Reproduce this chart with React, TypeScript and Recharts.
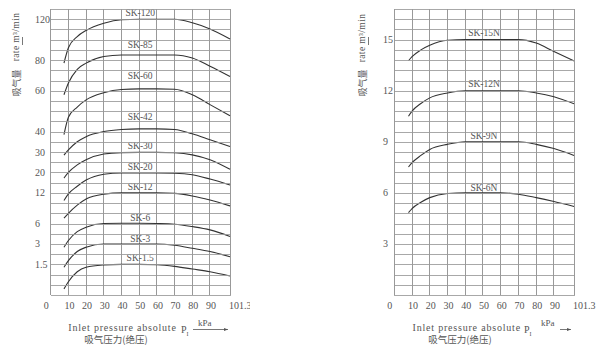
import React from "react";
import { LineChart, Line, XAxis, YAxis, ReferenceLine } from "recharts";

const FONT = '"Liberation Serif", "DejaVu Serif", serif';
const CJK = '"Noto Sans CJK SC", sans-serif';
const TEXT = "#555";
const GRID = "#999";
const CURVE = "#333";

// inlet pressure, kPa
const PRESSURE_LEFT = [7.5, 10, 15, 20, 30, 40, 50, 60, 70, 80, 90, 101.3];
const PRESSURE_RIGHT = [8, 10, 15, 20, 30, 40, 50, 60, 70, 80, 90, 101.3];
const X_TICKS = [0, 10, 20, 30, 40, 50, 60, 70, 80, 90, 101.3];
const X_MAX = 101.3;

// suction rate, m3/min (left panel)
const SK_120 = [78, 92, 103, 109, 116, 119.5, 120, 120, 120, 116.5, 110.5, 100.7];
const SK_85 = [58, 65, 74, 78, 83.5, 85, 85, 85, 85, 82, 76, 69.3];
const SK_60 = [38.5, 47, 52, 55.5, 59, 60.8, 61.2, 61.2, 61, 58, 53.2, 47.7];
const SK_42 = [28.5, 31, 35, 37.5, 40, 41, 41.3, 41.3, 41, 38.9, 36, 32.7];
const SK_30 = [17.8, 20, 23.7, 26.2, 29, 29.7, 29.8, 29.8, 29.6, 28.6, 26.2, 21.5];
const SK_20 = [10.5, 11.8, 14.6, 17, 19.3, 19.8, 19.8, 19.8, 19.7, 19.1, 17.4, 15.1];
const SK_12 = [7.04, 8.0, 9.6, 10.8, 11.75, 12, 12, 12, 11.9, 11.4, 10.6, 9.45];
const SK_6 = [2.76, 3.5, 4.8, 5.45, 6, 6.05, 6.05, 6, 5.9, 5.55, 5.06, 4.1];
const SK_3 = [1.36, 1.77, 2.44, 2.76, 3, 3, 3, 3, 2.9, 2.68, 2.44, 2.06];
const SK_1_5 = [0.3, 0.65, 1.14, 1.36, 1.47, 1.5, 1.5, 1.48, 1.4, 1.27, 1.14, 0.93];

// right panel
const SK_15N = [13.76, 14.0, 14.4, 14.67, 14.96, 15, 15, 15, 15, 14.8, 14.3, 13.75];
const SK_12N = [10.5, 10.8, 11.25, 11.58, 11.87, 12, 12, 12, 12, 11.87, 11.64, 11.23];
const SK_9N = [7.52, 7.77, 8.2, 8.55, 8.85, 9, 9, 9, 9, 8.85, 8.6, 8.2];
const SK_6N = [4.84, 5.08, 5.45, 5.72, 5.96, 6, 6, 6, 5.92, 5.72, 5.49, 5.2];

// left y axis is not linear: every tick label sits on its own grid row
const LEFT_TICK_VALUES = [0, 1.5, 3, 6, 12, 20, 30, 40, 60, 80, 120];
const LEFT_TICK_ROWS = [0, 3, 5, 7, 10, 12, 14, 16, 20, 23, 27];
const LEFT_ROWS = 28;
const RIGHT_TICKS = [3, 6, 9, 12, 15];
const RIGHT_MAX = 16.8;
const RIGHT_ROWS = 28; // one row = 0.6 m3/min

const LABEL_AT = 6; // index of 50 kPa

// chart geometry shared by the charts and the grid overlay
const CHART_H = 358;
const TOP = 9;
const BOTTOM = 33;
const X_AXIS_H = 30;
const PLOT_H = CHART_H - TOP - BOTTOM - X_AXIS_H;
const LEFT_PANEL = { left: 0, width: 250, yAxisW: 50.7, right: 20 };
const RIGHT_PANEL = { left: 330, width: 270, yAxisW: 64.3, right: 26 };

const LEFT_SERIES = [
  { key: "k120", name: "SK-120", values: SK_120, dy: -6 },
  { key: "k85", name: "SK-85", values: SK_85, dy: -10 },
  { key: "k60", name: "SK-60", values: SK_60, dy: -13 },
  { key: "k42", name: "SK-42", values: SK_42, dy: -12 },
  { key: "k30", name: "SK-30", values: SK_30, dy: -6 },
  { key: "k20", name: "SK-20", values: SK_20, dy: -6 },
  { key: "k12", name: "SK-12", values: SK_12, dy: -6 },
  { key: "k6", name: "SK-6", values: SK_6, dy: -5 },
  { key: "k3", name: "SK-3", values: SK_3, dy: -5 },
  { key: "k15", name: "SK-1.5", values: SK_1_5, dy: -6 },
];

const RIGHT_SERIES = [
  { key: "n15", name: "SK-15N", values: SK_15N, dy: -7 },
  { key: "n12", name: "SK-12N", values: SK_12N, dy: -7 },
  { key: "n9", name: "SK-9N", values: SK_9N, dy: -6 },
  { key: "n6", name: "SK-6N", values: SK_6N, dy: -5 },
];

function toRow(v: number) {
  const vs = LEFT_TICK_VALUES;
  const rs = LEFT_TICK_ROWS;
  let i = 1;
  while (i < vs.length - 1 && v > vs[i]) i++;
  const t = (v - vs[i - 1]) / (vs[i] - vs[i - 1]);
  return rs[i - 1] + t * (rs[i] - rs[i - 1]);
}

const leftData = PRESSURE_LEFT.map((p, i) => {
  const row: Record<string, number> = { p };
  LEFT_SERIES.forEach((s) => (row[s.key] = toRow(s.values[i])));
  return row;
});

const rightData = PRESSURE_RIGHT.map((p, i) => {
  const row: Record<string, number> = { p };
  RIGHT_SERIES.forEach((s) => (row[s.key] = s.values[i]));
  return row;
});

const txt = (size: number, family = FONT) => ({ fontSize: size, fontFamily: family, fill: TEXT });

const curveLabel = (text: string, dy: number) => (props: any) =>
  props.index === LABEL_AT ? (
    <text x={props.x + 1} y={props.y + dy} textAnchor="middle" dominantBaseline="central" style={txt(9.5)}>
      {text}
    </text>
  ) : null;

function XTick(props: any) {
  const { x, payload } = props;
  const v = payload.value;
  if (v === 0) {
    return <text x={x - 4.5} y={309} textAnchor="middle" style={txt(10)}>0</text>;
  }
  if (v === 101.3) {
    return <text x={x - 1} y={309} textAnchor="start" style={txt(10)}>101.3</text>;
  }
  return <text x={x + 1} y={309} textAnchor="middle" style={txt(10)}>{v}</text>;
}

function LeftYTick(props: any) {
  const { y, payload } = props;
  const idx = LEFT_TICK_ROWS.indexOf(payload.value);
  return <text x={35} y={y + 3.5} textAnchor="start" style={txt(10)}>{LEFT_TICK_VALUES[idx]}</text>;
}

function RightYTick(props: any) {
  const { y, payload } = props;
  return <text x={53} y={y + 3.5} textAnchor="start" style={txt(10)}>{payload.value}</text>;
}

// horizontal grid rows as thin rects, so they stay visible as solid 1px bands
function gridRows(p: typeof LEFT_PANEL, rows: number) {
  const x1 = Math.round(p.left + p.yAxisW);
  const x2 = Math.round(p.left + p.width - p.right);
  return Array.from({ length: rows + 1 }, (_, i) => {
    const y = Math.round(TOP + (PLOT_H * i) / rows);
    return <rect key={`${p.left}-${i}`} x={x1} y={y} width={x2 - x1 + 1} height={1} fill={GRID} />;
  });
}

function Overlay() {
  const axisTitle = (x: number, rateY: number, cnY: number) => (
    <g>
      <text transform={`translate(${x},${rateY}) rotate(-90)`} textAnchor="middle" dominantBaseline="central" style={{ ...txt(9.5), letterSpacing: 0.4 }}>
        rate  m³/min
      </text>
      <text transform={`translate(${x},${cnY}) rotate(-90)`} textAnchor="middle" dominantBaseline="central" style={txt(9, CJK)}>
        吸气量
      </text>
      <line x1={x + 6.5} y1={45} x2={x + 6.5} y2={37} stroke={TEXT} strokeWidth={0.8} />
    </g>
  );
  const xTitle = (cx: number, px: number, arrow: [number, number], cnX: number) => (
    <g>
      <text x={cx} y={331} textAnchor="middle" style={{ ...txt(10), letterSpacing: 0.8 }}>Inlet pressure absolute</text>
      <text x={px} y={333} style={txt(10)}>P<tspan dy={3} style={{ fontSize: 6 }}>I</tspan></text>
      <text x={px + 17} y={326} style={txt(9)}>kPa</text>
      <line x1={arrow[0]} y1={329.5} x2={arrow[1]} y2={329.5} stroke={TEXT} strokeWidth={0.8} />
      <path d={`M${arrow[1]},329.5 l-4,-1.5 l0,3 z`} fill={TEXT} />
      <text x={cnX} y={343} textAnchor="middle" style={txt(9.5, CJK)}>吸气压力(绝压)</text>
    </g>
  );
  return (
    <svg width={600} height={358} style={{ position: "absolute", left: 0, top: 0, pointerEvents: "none" }}>
      <g opacity={0.85}>
        {gridRows(LEFT_PANEL, LEFT_ROWS)}
        {gridRows(RIGHT_PANEL, RIGHT_ROWS)}
      </g>
      {axisTitle(16, 37, 83)}
      {axisTitle(362, 38, 83)}
      {xTitle(122.5, 181, [193, 228], 116)}
      {xTitle(466.7, 524, [560, 571], 460)}
    </svg>
  );
}

const gridCols = () =>
  X_TICKS.map((p) => <ReferenceLine key={`v${p}`} x={p} stroke={GRID} strokeWidth={1} shapeRendering="crispEdges" />);

export default function App() {
  return (
    <div style={{ position: "absolute", left: 0, top: 0, width: 600, height: 358, background: "#fff", fontFamily: FONT }}>
      <div style={{ position: "absolute", left: LEFT_PANEL.left, top: 0 }}>
        <LineChart width={LEFT_PANEL.width} height={CHART_H} data={leftData} margin={{ top: TOP, right: LEFT_PANEL.right, bottom: BOTTOM, left: 0 }}>
          <XAxis dataKey="p" type="number" domain={[0, X_MAX]} ticks={X_TICKS} interval={0} height={X_AXIS_H} axisLine={false} tickLine={false} tick={<XTick />} />
          <YAxis type="number" domain={[0, LEFT_ROWS]} ticks={LEFT_TICK_ROWS.slice(1)} interval={0} width={LEFT_PANEL.yAxisW} axisLine={false} tickLine={false} tick={<LeftYTick />} />
          {gridCols()}
          {LEFT_SERIES.map((s) => (
            <Line key={s.key} dataKey={s.key} type="monotone" stroke={CURVE} strokeWidth={1.1} dot={false} isAnimationActive={false} label={curveLabel(s.name, s.dy)} />
          ))}
        </LineChart>
      </div>
      <div style={{ position: "absolute", left: RIGHT_PANEL.left, top: 0 }}>
        <LineChart width={RIGHT_PANEL.width} height={CHART_H} data={rightData} margin={{ top: TOP, right: RIGHT_PANEL.right, bottom: BOTTOM, left: 0 }}>
          <XAxis dataKey="p" type="number" domain={[0, X_MAX]} ticks={X_TICKS} interval={0} height={X_AXIS_H} axisLine={false} tickLine={false} tick={<XTick />} />
          <YAxis type="number" domain={[0, RIGHT_MAX]} ticks={RIGHT_TICKS} interval={0} width={RIGHT_PANEL.yAxisW} axisLine={false} tickLine={false} tick={<RightYTick />} />
          {gridCols()}
          {RIGHT_SERIES.map((s) => (
            <Line key={s.key} dataKey={s.key} type="monotone" stroke={CURVE} strokeWidth={1.1} dot={false} isAnimationActive={false} label={curveLabel(s.name, s.dy)} />
          ))}
        </LineChart>
      </div>
      <Overlay />
    </div>
  );
}
